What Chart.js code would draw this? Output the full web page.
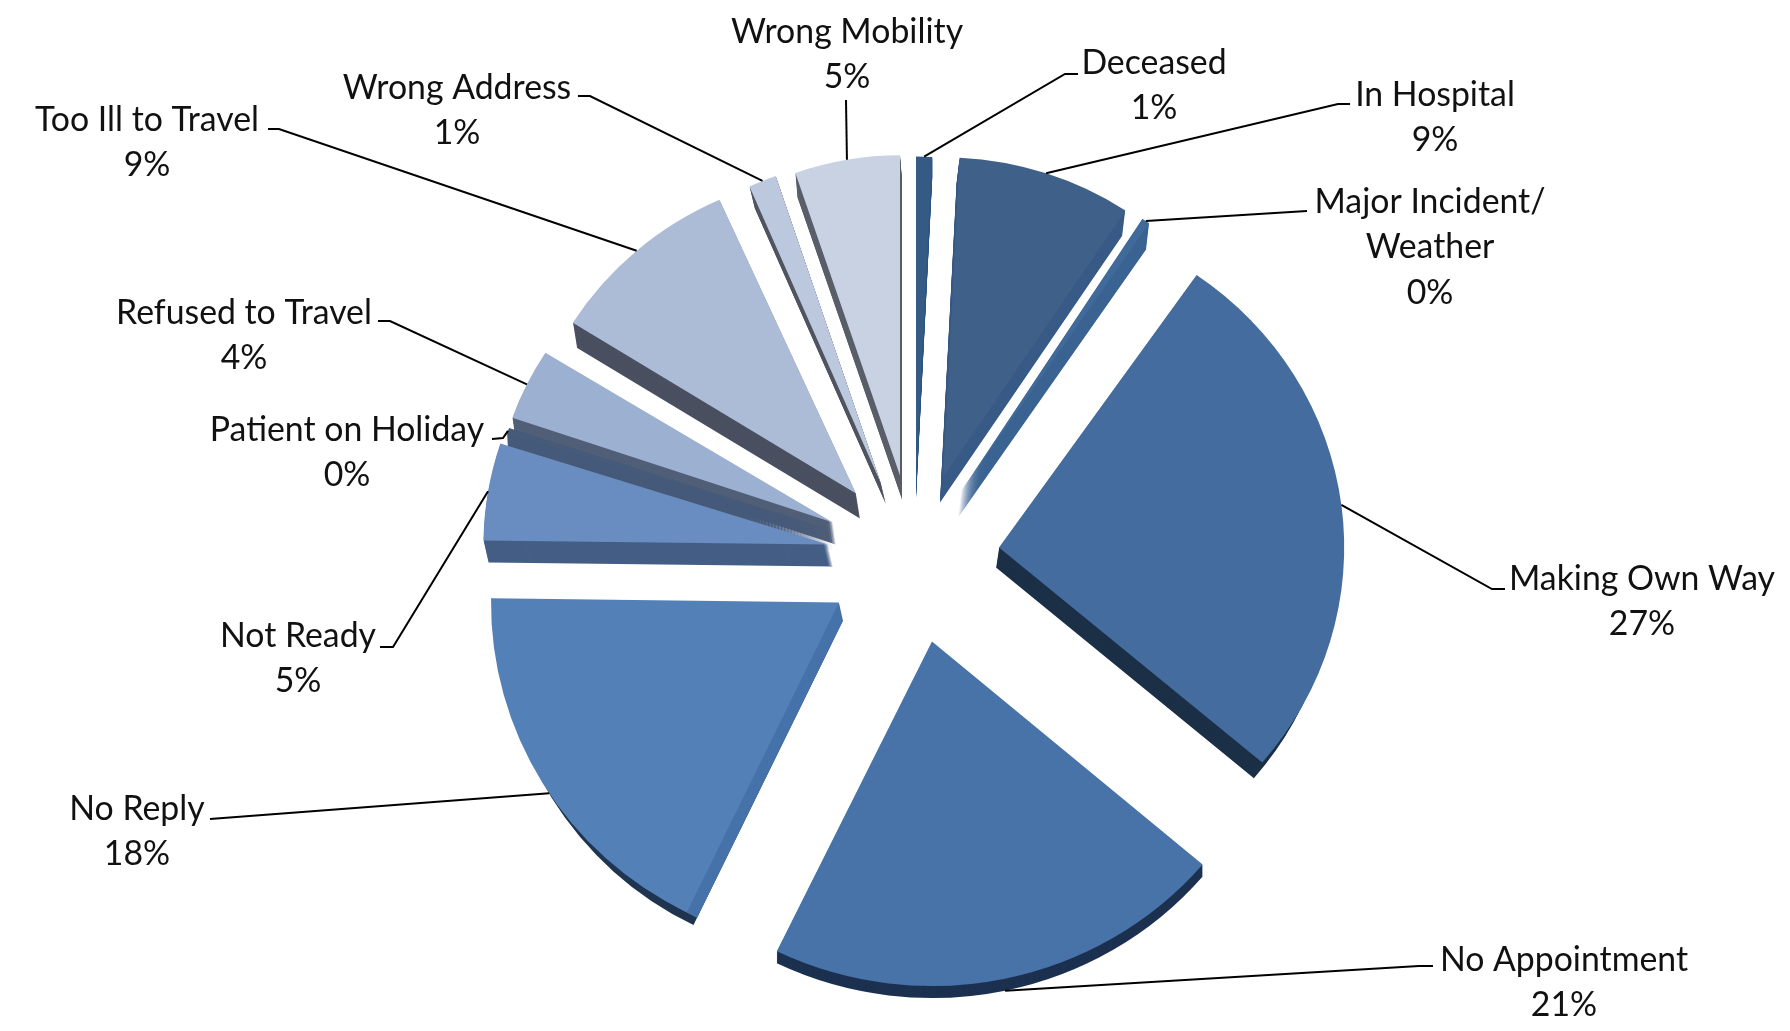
<!DOCTYPE html>
<html>
<head>
<meta charset="utf-8">
<title>Aborted journeys by reason</title>
<script src="https://cdn.jsdelivr.net/npm/chart.js@4"></script>
<style>
    html, body { margin: 0; background: #fff; }
    canvas { display: block; }
</style>
</head>
<body>
<canvas id="reasonsChart" width="1790" height="1031"></canvas>
<script>
// Share of each reason, in percent
const categories = [
    "Deceased", "In Hospital", ["Major Incident/", "Weather"], "Making Own Way",
    "No Appointment", "No Reply", "Not Ready", "Patient on Holiday",
    "Refused to Travel", "Too Ill to Travel", "Wrong Address", "Wrong Mobility",
];
const shares = [0.8, 8.5, 0.4, 26.5, 21, 18, 4.8, 0.3, 3.6, 9.4, 1.4, 5.3];
const faceColors = [
    "#355a84", "#3f6089", "#3f6a9a", "#446c9f", "#4773a8", "#5280b7",
    "#6a8dc1", "#465a7a", "#9cb0d2", "#acbcd7", "#bcc8de", "#c9d2e2",
];

// Exploded wedge placement: shift from the pie centre, perspective scale, wall depth and colour
const wedges = [
    { dx: 9, dy: -81, sx: 0.93, sy: 0.925, wx: 0, wy: 20, wall: "#2f5580" },
    { dx: 36, dy: -82, sx: 0.95, sy: 0.92, wx: -3, wy: 25, wall: "#385a86" },
    { dx: 54, dy: -68, sx: 0.945, sy: 0.94, wx: -3, wy: 26, wall: "#3a6392" },
    { dx: 92, dy: -12, sx: 0.992, sy: 0.955, wx: -3, wy: 20, wall: "#1b2f47", inset: 7 },
    { dx: 25, dy: 82, sx: 1.02, sy: 0.99, wx: 0, wy: 12, wall: "#1c3150" },
    { dx: -68, dy: 43, sx: 1, sy: 0.99, wx: 4, wy: 18, wall: "#1f3550", inset: 6, side: "#4672aa" },
    { dx: -79, dy: -15, sx: 0.99, sy: 0.94, wx: 5, wy: 22, wall: "#445e85" },
    { dx: -74, dy: -29, sx: 0.985, sy: 0.9, wx: 1, wy: 20, wall: "#465a7a" },
    { dx: -74, dy: -37, sx: 0.975, sy: 0.92, wx: 3, wy: 22, wall: "#515f78" },
    { dx: -51, dy: -66, sx: 0.96, sy: 0.925, wx: 4, wy: 25, wall: "#4a5060" },
    { dx: -26, dy: -76, sx: 0.925, sy: 0.935, wx: 5, wy: 21, wall: "#505661" },
    { dx: -7, dy: -84, sx: 0.92, sy: 0.92, wx: 2, wy: 24, wall: "#5a5f6a" },
];
const paintOrder = [11, 0, 10, 1, 2, 9, 8, 7, 6, 3, 5, 4];

// Label centre and the bent part of each leader line; "at" slides the rim end along the wedge
const callouts = [
    { x: 1154, y: 63, path: [[1078, 74], [1065, 74]] },
    { x: 1435, y: 95, path: [[1350, 104], [1338, 104]] },
    { x: 1430, y: 202, path: [[1307, 211]] },
    { x: 1642, y: 579, path: [[1505, 589], [1492, 589]] },
    { x: 1564, y: 960, path: [[1433, 966], [1419, 966]], drop: 12 },
    { x: 137, y: 809, path: [[210, 819]], at: 0.47 },
    { x: 298, y: 636, path: [[380, 647], [393, 647]] },
    { x: 347, y: 430, path: [[492, 439], [503, 438]] },
    { x: 244, y: 313, path: [[378, 321], [390, 321]] },
    { x: 147, y: 120, path: [[268, 129], [279, 129]] },
    { x: 457, y: 88, path: [[578, 96], [590, 96]] },
    { x: 847, y: 32, path: [[846, 100]] },
];
const LINE_HEIGHT = 45.6;

function paintArc(ctx, arc, w, ox, oy, color) {
    ctx.save();
    ctx.translate(arc.x + w.dx + ox, arc.y + w.dy + oy);
    ctx.scale(w.sx, w.sy);
    ctx.translate(-arc.x, -arc.y);
    arc.options = { ...arc.options, backgroundColor: color };
    arc.draw(ctx);
    ctx.restore();
}

function paintWall(ctx, arc, w, inset, color) {
    const radius = arc.outerRadius;
    const steps = Math.max(Math.abs(w.wx), Math.abs(w.wy));
    arc.outerRadius = radius - inset;
    for (let s = steps; s > 0; s--) {
        paintArc(ctx, arc, w, w.wx * s / steps, w.wy * s / steps, color);
    }
    arc.outerRadius = radius;
}

const explodedWedges = {
    id: "explodedWedges",
    beforeDatasetDraw(chart, args) {
        const ctx = chart.ctx;
        paintOrder.forEach(i => {
            const arc = args.meta.data[i];
            const w = wedges[i];
            const face = arc.options.backgroundColor;
            paintWall(ctx, arc, w, w.inset || 0, w.wall);
            // the cut side of a wedge can be lighter than its rim
            if (w.side) paintWall(ctx, arc, w, 14, w.side);
            paintArc(ctx, arc, w, 0, 0, face);
        });
        return false;
    },
};

const calloutLabels = {
    id: "calloutLabels",
    afterDatasetsDraw(chart) {
        const ctx = chart.ctx;
        const arcs = chart.getDatasetMeta(0).data;
        ctx.save();
        ctx.strokeStyle = "#000";
        ctx.lineWidth = 2;
        ctx.fillStyle = "#111";
        ctx.font = "33.8px Lato";
        ctx.textAlign = "center";
        ctx.textBaseline = "middle";
        callouts.forEach((c, i) => {
            const arc = arcs[i];
            const w = wedges[i];
            const angle = arc.startAngle + (arc.endAngle - arc.startAngle) * (c.at || 0.5);
            const rimX = arc.x + w.dx + Math.cos(angle) * arc.outerRadius * w.sx;
            const rimY = arc.y + w.dy + Math.sin(angle) * arc.outerRadius * w.sy + (c.drop || 0);
            ctx.beginPath();
            c.path.forEach(([x, y], k) => (k ? ctx.lineTo(x, y) : ctx.moveTo(x, y)));
            ctx.lineTo(rimX, rimY);
            ctx.stroke();

            const lines = [].concat(categories[i], Math.round(shares[i]) + "%");
            lines.forEach((text, k) => ctx.fillText(text, c.x, c.y + k * LINE_HEIGHT));
        });
        ctx.restore();
    },
};

new Chart(document.getElementById("reasonsChart"), {
    type: "pie",
    data: {
        labels: categories,
        datasets: [{ data: shares, backgroundColor: faceColors, borderWidth: 0 }],
    },
    options: {
        responsive: false,
        animation: false,
        events: [],
        radius: 348,
        layout: { padding: { left: 24, top: 88 } },
        plugins: { legend: { display: false }, tooltip: { enabled: false } },
    },
    plugins: [explodedWedges, calloutLabels],
});
</script>
</body>
</html>
